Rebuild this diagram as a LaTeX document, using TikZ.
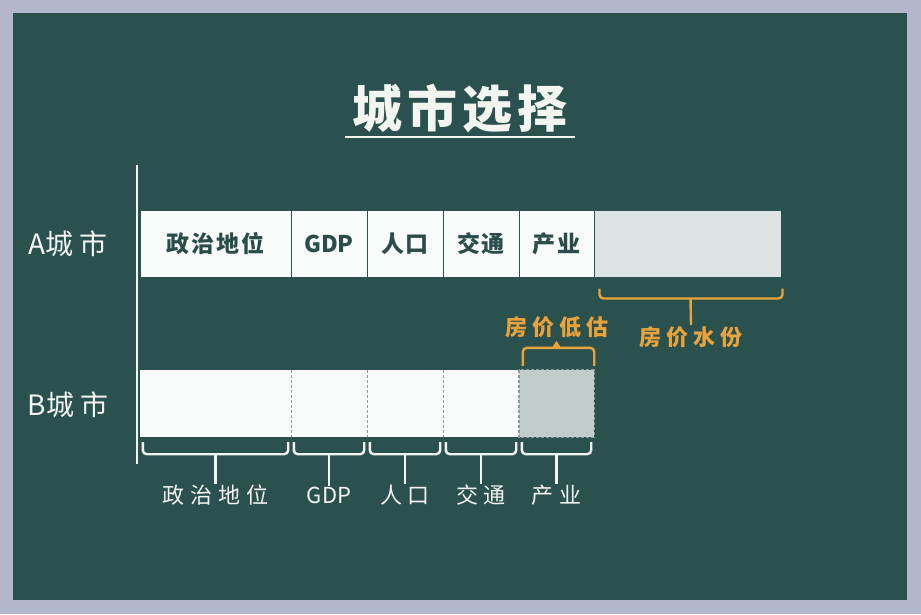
\documentclass[tikz,border=0pt]{standalone}
\usepackage{fontspec}
\usetikzlibrary{calc}
\newfontfamily\cjk{Noto Sans CJK SC}
\definecolor{frame}{HTML}{B4B7CC}
\definecolor{board}{HTML}{2B514F}
\definecolor{chalk}{HTML}{F2F5F0}
\definecolor{boxwhite}{HTML}{F8FBFA}
\definecolor{boxtext}{HTML}{2B4D4A}
\definecolor{orangechalk}{HTML}{E8A33C}
\definecolor{greyA}{HTML}{DDE2E2}
\definecolor{greyB}{HTML}{C2CCCB}
\definecolor{dashc}{HTML}{8A9B9A}
\newcommand{\gapx}[1]{\hspace{#1pt}}
\begin{document}
\begin{tikzpicture}[x=1pt,y=-1pt,
  abox/.style={draw=board, line width=1pt, fill=boxwhite, minimum height=67, inner sep=0pt,
    text=boxtext, font=\cjk\bfseries\fontsize{23}{23}\selectfont},
  bbox/.style={fill=boxwhite, minimum height=67, inner sep=0pt},
  chalktext/.style={text=chalk, inner sep=1pt, font=\cjk\fontsize{22}{22}\selectfont},
  rowlabel/.style={text=chalk, inner sep=1pt, font=\cjk\fontsize{28}{28}\selectfont},
  otext/.style={text=orangechalk, inner sep=1pt, font=\cjk\bfseries\fontsize{22}{22}\selectfont},
  wbrace/.style={draw=chalk, line width=2.4pt, rounded corners=4pt},
  obrace/.style={draw=orangechalk, line width=2.4pt, rounded corners=4pt},
  sep/.style={draw=dashc, line width=1pt, dash pattern=on 3pt off 2pt}]
\fill[frame] (0,0) rectangle (921,614);
\fill[board] (13,13) rectangle (907,600);
\useasboundingbox (0,0) rectangle (921,614);

% title
\node[text=chalk, inner sep=0pt, font=\cjk\bfseries\fontsize{50}{50}\selectfont] (title) at (460,109) {城\gapx{5}市\gapx{5}选\gapx{5}择};
\coordinate (ul1) at (345,137);
\coordinate (ul2) at (575,137);
\draw[chalk, line width=2.5pt] (ul1) -- (ul2);

% axis
\coordinate (ax1) at (137,165);
\coordinate (ax2) at (137,464);
\draw[chalk, line width=1.6pt] (ax1) -- (ax2);

% row labels
\node[rowlabel] (la) at (68,244) {A城\gapx{6}市};
\node[rowlabel] (lb) at (68,405) {B城\gapx{6}市};

% A row
\node[abox, minimum width=151] (a1) at (215.5,243.5) {政\gapx{2}治\gapx{2}地\gapx{2}位};
\node[abox, minimum width=76] (a2) at (329,243.5) {GDP};
\node[abox, minimum width=76] (a3) at (405,243.5) {人\gapx{2}口};
\node[abox, minimum width=76] (a4) at (481,243.5) {交\gapx{2}通};
\node[abox, minimum width=75] (a5) at (556.5,243.5) {产\gapx{2}业};
\node[abox, minimum width=187, fill=greyA] (a6) at (687.5,243.5) {};

% B row
\node[bbox, minimum width=151] (b1) at (215.5,403.5) {};
\node[bbox, minimum width=76] (b2) at (329,403.5) {};
\node[bbox, minimum width=76] (b3) at (405,403.5) {};
\node[bbox, minimum width=76] (b4) at (481,403.5) {};
\node[bbox, minimum width=75, fill=greyB] (b5) at (556.5,403.5) {};
\foreach \n in {1,2,3,4}{
  \draw[sep] (b\n.north east) -- (b\n.south east);
}
\draw[sep] (b5.north west) rectangle (b5.south east);

% white braces and labels under B
\foreach \n/\lab in {1/政\gapx{6}治\gapx{6}地\gapx{6}位, 2/GDP, 3/人\gapx{6}口, 4/交\gapx{6}通, 5/产\gapx{6}业}{
  \node[chalktext] (t\n) at ([yshift=-58pt]b\n.south) {\lab};
  \draw[wbrace] ([xshift=3pt,yshift=-5pt]b\n.south west) |- ([yshift=-17pt]b\n.south)
     -| ([xshift=-3pt,yshift=-5pt]b\n.south east);
  \draw[chalk, line width=2.4pt] ([yshift=-17pt]b\n.south) -- (t\n.north);
}

% orange brace for A grey box
\node[otext] (ow) at (691,337) {房\gapx{5}价\gapx{5}水\gapx{5}份};
\draw[obrace] ([xshift=6pt,yshift=-11pt]a6.south west) |- ([xshift=3pt,yshift=-21pt]a6.south)
   -| ([xshift=1pt,yshift=-11pt]a6.south east);
\draw[orangechalk, line width=2.4pt] ([xshift=3pt,yshift=-21pt]a6.south) -- (ow.north);

% orange brace for B grey box
\node[otext] (ol) at (557,327) {房\gapx{5}价\gapx{5}低\gapx{5}估};
\draw[obrace] ([xshift=4pt,yshift=4pt]b5.north west) |- ([yshift=22pt]b5.north)
   -| ([yshift=4pt]b5.north east);
\fill[orangechalk] ([xshift=-4.5pt,yshift=22pt]b5.north) -- ([yshift=29pt]b5.north) -- ([xshift=4.5pt,yshift=22pt]b5.north) -- cycle;
\end{tikzpicture}
\end{document}
